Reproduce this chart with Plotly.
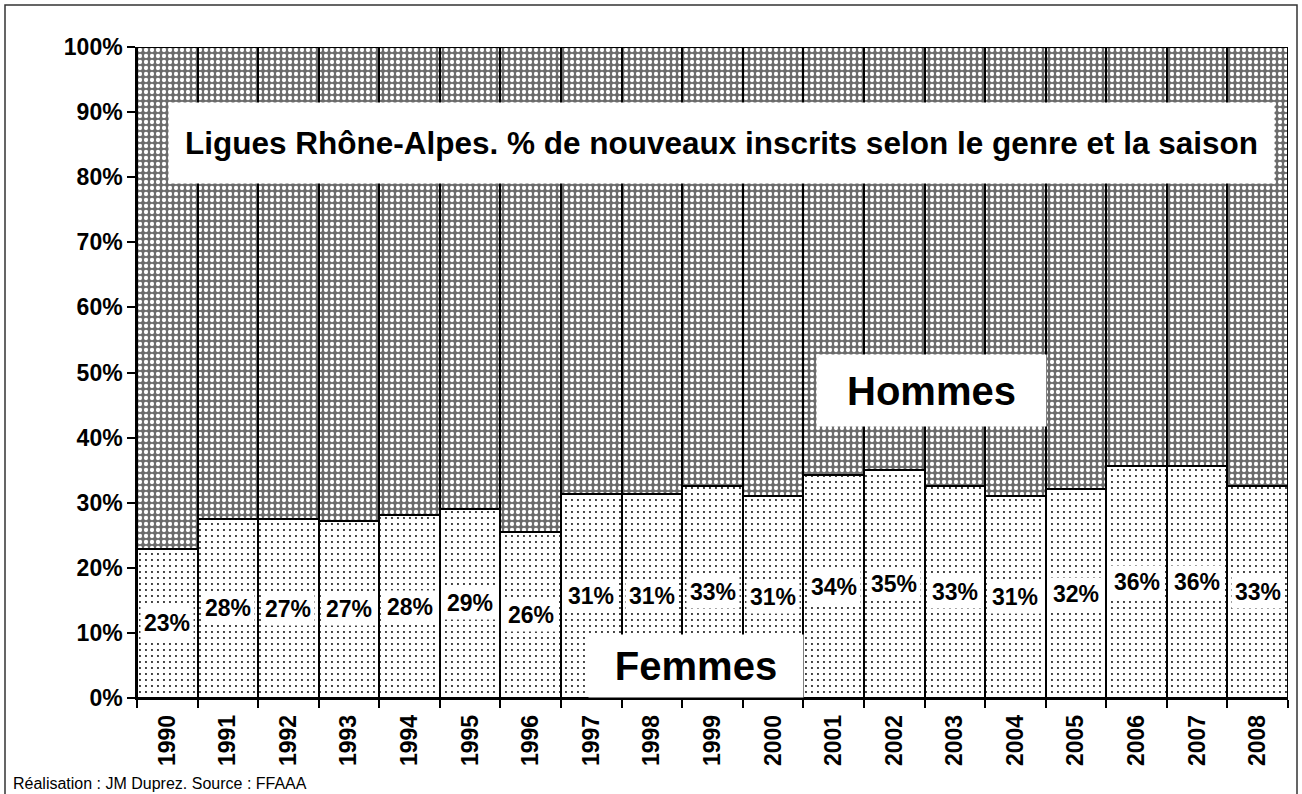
import plotly.graph_objects as go

years = [str(y) for y in range(1990, 2009)]
femmes = [22.9, 27.55, 27.45, 27.2, 28.1, 29.1, 25.5, 31.3, 31.3, 32.55, 31.1,
          34.2, 35.1, 32.6, 31.0, 32.1, 35.7, 35.7, 32.6]
hommes = [round(100 - f, 2) for f in femmes]
yticks = list(range(0, 101, 10))
ytick_labels = [f"{v}%" for v in yticks]

title_text = "Ligues Rhône-Alpes. % de nouveaux inscrits selon le genre et la saison"
footer_text = "Réalisation : JM Duprez. Source : FFAAA"

FONT = "Arial, 'Liberation Sans', sans-serif"

fig = go.Figure()
fig.add_trace(go.Bar(
    x=years, y=femmes, name="Femmes",
    marker=dict(color="white", line=dict(color="black", width=2),
                pattern=dict(shape=".", fgcolor="black", bgcolor="white",
                             size=6, solidity=0.08, fillmode="replace")),
    hoverinfo="x+y",
))
fig.add_trace(go.Bar(
    x=years, y=hommes, name="Hommes",
    marker=dict(color="#7c7c7c", line=dict(color="black", width=2),
                pattern=dict(shape=".", fgcolor="white", bgcolor="#6c6c6c",
                             size=6, solidity=0.4, fillmode="replace")),
    hoverinfo="x+y",
))

annotations = []
for i, f in enumerate(femmes):
    annotations.append(dict(
        x=i, y=f / 2, xref="x", yref="y", text=f"<b>{f:.0f}%</b>", showarrow=False,
        font=dict(family=FONT, size=23, color="black"),
        bgcolor="white", borderpad=3, xanchor="center", yanchor="middle",
    ))

# Plot area: x 137..1288, y 47..698
def px(x):
    return (x - 137) / 1151

def py(y):
    return (698 - y) / 651

annotations.append(dict(
    x=px(721.5), y=py(143), xref="paper", yref="paper", text="<b>" + title_text + "</b>",
    showarrow=False, font=dict(family=FONT, size=31.5, color="black"),
    bgcolor="white", width=1105, height=80, borderpad=0, xanchor="center", yanchor="middle",
))
annotations.append(dict(
    x=px(931.5), y=py(390.5), xref="paper", yref="paper", text="<b>Hommes</b>",
    showarrow=False, font=dict(family=FONT, size=40, color="black"),
    bgcolor="white", width=229, height=71, borderpad=0, xanchor="center", yanchor="middle",
))
annotations.append(dict(
    x=px(696), y=py(666), xref="paper", yref="paper", text="<b>Femmes</b>",
    showarrow=False, font=dict(family=FONT, size=40, color="black"),
    bgcolor="white", width=214, height=62, borderpad=0, xanchor="center", yanchor="middle",
))
annotations.append(dict(
    x=px(11), y=py(783), xref="paper", yref="paper", text=footer_text,
    showarrow=False, font=dict(family=FONT, size=16, color="black"),
    xanchor="left", yanchor="middle",
))

fig.update_layout(
    width=1302, height=794,
    margin=dict(l=137, r=14, t=47, b=96),
    paper_bgcolor="white", plot_bgcolor="white",
    barmode="stack", bargap=0, showlegend=False,
    annotations=annotations,
    shapes=[dict(type="rect", xref="paper", yref="paper",
                 x0=px(5), x1=px(1297), y0=py(800), y1=py(5),
                 line=dict(color="#333333", width=1.5), layer="below")],
    xaxis=dict(type="category", tickson="boundaries", ticks="outside", ticklen=8,
               tickcolor="black", tickwidth=1.5, tickangle=-90, ticklabelstandoff=6,
               showline=True, linecolor="black", linewidth=1.5,
               tickfont=dict(family=FONT, size=23, color="black", weight="bold"),
               showgrid=False, range=[-0.5, len(years) - 0.5]),
    yaxis=dict(range=[0, 100], tickmode="array", tickvals=yticks, ticktext=ytick_labels,
               ticks="outside",
               ticklen=8, tickcolor="black", tickwidth=1.5,
               showline=True, linecolor="black", linewidth=1.5, showgrid=False,
               zeroline=False,
               tickfont=dict(family=FONT, size=23, color="black", weight="bold")),
)

fig.write_html("out.html", config={"displayModeBar": False},
               post_script="document.body.style.margin='0px';document.body.style.overflow='hidden';")
